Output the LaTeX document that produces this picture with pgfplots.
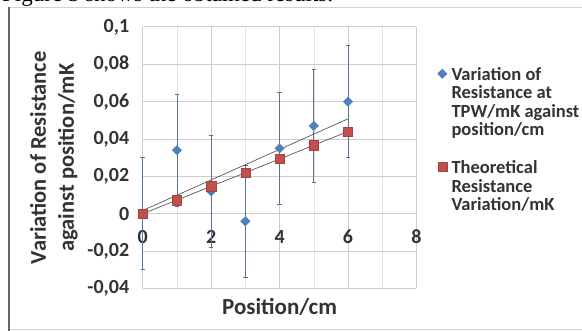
\documentclass[border=0pt]{standalone}
\usepackage{fontspec}
\setmainfont{Carlito}
\newfontfamily\serif{Liberation Serif}
\usepackage{pgfplots}
\usepackage{pgfplotstable}
\pgfplotsset{compat=1.18}
\definecolor{sblue}{HTML}{4F81BD}
\definecolor{sred}{HTML}{C0504D}
\definecolor{ebar}{HTML}{5A7494}
\definecolor{tline}{HTML}{595959}

\pgfplotstableread{
x y e
0 0.000 0.03
1 0.034 0.03
2 0.012 0.03
3 -0.004 0.03
4 0.035 0.03
5 0.047 0.03
6 0.060 0.03
}\measured

\pgfplotstableread{
x y
0 0.0000
1 0.0073
2 0.0147
3 0.0220
4 0.0293
5 0.0367
6 0.0440
}\theory

\begin{document}
\begin{tikzpicture}
\fill[white] (0pt,0pt) rectangle (582pt,331pt);
\begin{scope}
\clip (0pt,0pt) rectangle (582pt,331pt);
\node[anchor=base west, inner sep=0, font=\serif\fontsize{23}{23}\selectfont] at (2pt,329.5pt) {Figure 5 shows the obtained results.};
\draw[gray!35, line width=1pt] (8.5pt,323pt) -- (590pt,323pt);
\draw[gray!35, line width=1pt] (8.5pt,1pt) -- (590pt,1pt);
\draw[black!60, line width=2pt] (8.5pt,323.5pt) -- (8.5pt,-2pt);
\end{scope}

\begin{axis}[at={(142.7pt,42.5pt)}, anchor=south west, scale only axis,
  width=273.8pt, height=261.6pt,
  xmin=0, xmax=8, ymin=-0.04, ymax=0.1,
  xtick={0,2,4,6,8}, minor xtick={1,3,5,7},
  ytick={-0.04,-0.02,0,0.02,0.04,0.06,0.08,0.1},
  extra y ticks={0}, extra y tick labels={},
  extra y tick style={grid style={gray!75, line width=0.9pt}},
  grid=both,
  major grid style={gray!40, line width=0.8pt},
  minor grid style={gray!22, line width=0.6pt},
  axis line style={draw=none},
  major tick length=0pt, minor tick length=0pt,
  /pgf/number format/assume math mode=true,
  ticklabel style={font=\bfseries\fontsize{20}{20}\selectfont, text=black!80},
  xticklabel style={anchor=base, yshift=44.5pt},
  yticklabel style={xshift=-10pt, /pgf/number format/fixed, /pgf/number format/precision=2, /pgf/number format/use comma},
  xlabel={Position/cm},
  xlabel style={at={(axis description cs:0.5,-0.101)}, anchor=base, font=\bfseries\fontsize{23}{23}\selectfont, text=black!80},
  ylabel={Variation of Resistance\\against position/mK},
  ylabel style={at={(axis description cs:-0.324,0.5)}, anchor=center, align=center, font=\bfseries\fontsize{22.5}{28}\selectfont, text=black!80},
  legend style={at={(axis description cs:1.0767,0.8543)}, anchor=north west, draw=none, fill=none, inner sep=0pt,
    font=\bfseries\fontsize{18.5}{18.5}\selectfont, text=black!80,
    cells={anchor=north west, align=left, inner sep=1pt}, row sep=19pt, column sep=2.5pt},
  legend image code/.code={\draw[#1] plot coordinates {(4.5pt,-8.5pt)};},
  clip=false,
]
\addplot[only marks, mark=square*, mark size=3.3pt, color=sblue, mark options={rotate=45, fill=sblue, draw=sblue},
  error bars/.cd, y dir=both, y explicit,
  error bar style={ebar, line width=0.8pt},
  error mark options={rotate=90, ebar, mark size=2.2pt, line width=0.8pt}]
  table[x=x, y=y, y error=e] {\measured};
\addlegendentry{Variation of\\Resistance at\\TPW/mK against\\position/cm}
\addplot[tline, line width=0.7pt, forget plot] coordinates {(0,0.00175) (6,0.0508)};
\addplot[tline, line width=0.7pt, forget plot] table[x=x, y=y] {\theory};
\addplot[only marks, mark=square*, mark size=4.6pt, color=sred, mark options={fill=sred, draw=sred!85!black}]
  table[x=x, y=y] {\theory};
\addlegendentry{Theoretical\\Resistance\\Variation/mK}
\end{axis}
\pgfresetboundingbox
\useasboundingbox (0pt,0pt) rectangle (582pt,331pt);
\end{tikzpicture}
\end{document}
